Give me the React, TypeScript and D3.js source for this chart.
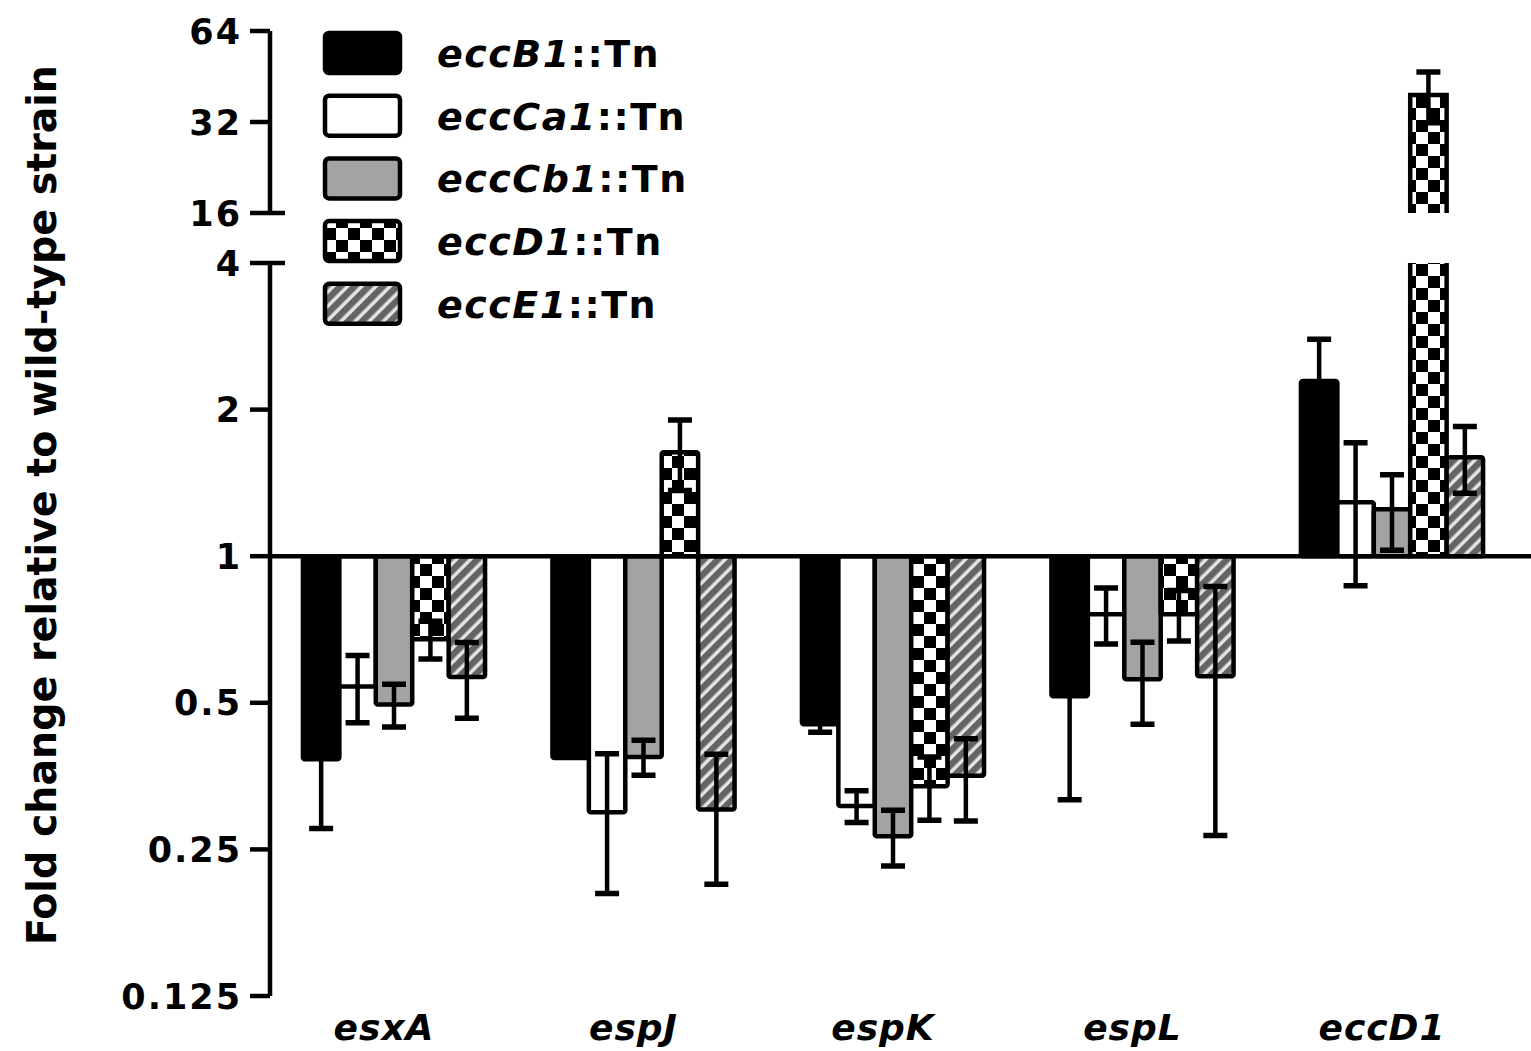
import { useEffect, useRef } from 'react';
import { select, scaleBand, scaleLog } from 'd3';

// genes on the x axis, one group of bars per gene
const genes = ['esxA', 'espJ', 'espK', 'espL', 'eccD1'];
// transposon mutants, one bar per gene
const strains = ['eccB1', 'eccCa1', 'eccCb1', 'eccD1', 'eccE1'];

// fold change (mean) and error (sd), order follows genes
const eccB1Mean = [0.383, 0.385, 0.452, 0.516, 2.29];
const eccB1Sd = [0.107, 0, 0.017, 0.2, 0.5];
const eccCa1Mean = [0.54, 0.298, 0.307, 0.76, 1.29];
const eccCa1Sd = [0.085, 0.095, 0.023, 0.1, 0.42];
const eccCb1Mean = [0.496, 0.387, 0.266, 0.559, 1.249];
const eccCb1Sd = [0.05, 0.032, 0.035, 0.107, 0.22];
const eccD1Mean = [0.675, 1.635, 0.337, 0.76, 39.3];
const eccD1Sd = [0.06, 0.27, 0.05, 0.09, 7.5];
const eccE1Mean = [0.565, 0.302, 0.354, 0.567, 1.597];
const eccE1Sd = [0.1, 0.09, 0.068, 0.3, 0.25];

// broken y axis: lower and upper segment ticks
const lowTicks = [0.125, 0.25, 0.5, 1, 2, 4];
const lowTickLabels = ['0.125', '0.25', '0.5', '1', '2', '4'];
const highTicks = [16, 32, 64];
const highTickLabels = ['16', '32', '64'];

const yTitle = 'Fold change relative to wild-type strain';

const fills = {
  eccB1: '#000',
  eccCa1: '#fff',
  eccCb1: '#a3a3a3',
  eccD1: 'url(#checker)',
  eccE1: 'url(#hatch)',
};

const W = 1531;
const H = 1051;
const axisX = 270;
const lineW = 4.5;

const App = () => {
  const svgRef = useRef(null);

  useEffect(() => {
    const svg = select(svgRef.current);
    svg.selectAll('*').remove();

    const series = [
      { name: 'eccB1', mean: eccB1Mean, sd: eccB1Sd },
      { name: 'eccCa1', mean: eccCa1Mean, sd: eccCa1Sd },
      { name: 'eccCb1', mean: eccCb1Mean, sd: eccCb1Sd },
      { name: 'eccD1', mean: eccD1Mean, sd: eccD1Sd },
      { name: 'eccE1', mean: eccE1Mean, sd: eccE1Sd },
    ];

    // patterns
    const defs = svg.append('defs');
    const checker = defs
      .append('pattern')
      .attr('id', 'checker')
      .attr('patternUnits', 'userSpaceOnUse')
      .attr('width', 24)
      .attr('height', 24);
    checker.append('rect').attr('width', 24).attr('height', 24).attr('fill', '#fff');
    checker.append('rect').attr('width', 12).attr('height', 12).attr('fill', '#000');
    checker
      .append('rect')
      .attr('x', 12)
      .attr('y', 12)
      .attr('width', 12)
      .attr('height', 12)
      .attr('fill', '#000');
    const hatch = defs
      .append('pattern')
      .attr('id', 'hatch')
      .attr('patternUnits', 'userSpaceOnUse')
      .attr('width', 10)
      .attr('height', 10)
      .attr('patternTransform', 'rotate(45)');
    hatch.append('rect').attr('width', 10).attr('height', 10).attr('fill', '#e4e4e4');
    hatch.append('rect').attr('width', 6.5).attr('height', 10).attr('fill', '#646464');

    // scales
    const yLow = scaleLog().base(2).domain([0.125, 4]).range([996, 263]);
    const yHigh = scaleLog().base(2).domain([16, 64]).range([213, 31]);
    const yOf = (v) => (v >= 16 ? yHigh(v) : yLow(v));
    const y1 = yLow(1);

    const x = scaleBand()
      .domain(genes)
      .range([axisX, 1516])
      .paddingInner(0.27)
      .paddingOuter(0.132);
    const xs = scaleBand().domain(strains).range([0, x.bandwidth()]);
    const bw = xs.bandwidth();

    // bars
    const barsG = svg.append('g');
    genes.forEach((gene, gi) => {
      series.forEach((s) => {
        const v = s.mean[gi];
        const bx = x(gene) + xs(s.name);
        if (v > 4) {
          // bar crosses the axis break: two pieces
          const top = yHigh(v);
          const lowTop = yLow(4);
          const highBottom = yHigh(16);
          barsG
            .append('rect')
            .attr('x', bx)
            .attr('y', lowTop)
            .attr('width', bw)
            .attr('height', y1 - lowTop)
            .attr('fill', fills[s.name]);
          barsG
            .append('rect')
            .attr('x', bx)
            .attr('y', top)
            .attr('width', bw)
            .attr('height', highBottom - top)
            .attr('fill', fills[s.name]);
          barsG
            .append('path')
            .attr(
              'd',
              `M${bx},${lowTop}V${y1}H${bx + bw}V${lowTop}` +
                `M${bx},${highBottom}V${top}H${bx + bw}V${highBottom}`
            )
            .attr('fill', 'none')
            .attr('stroke', '#000')
            .attr('stroke-width', lineW);
        } else {
          const yv = yOf(v);
          barsG
            .append('rect')
            .attr('x', bx)
            .attr('y', Math.min(yv, y1))
            .attr('width', bw)
            .attr('height', Math.abs(yv - y1))
            .attr('rx', 2)
            .attr('fill', fills[s.name])
            .attr('stroke', '#000')
            .attr('stroke-width', lineW);
        }
      });
    });

    // error bars
    const errG = svg
      .append('g')
      .attr('stroke', '#000')
      .attr('stroke-width', lineW)
      .attr('fill', 'none');
    genes.forEach((gene, gi) => {
      series.forEach((s) => {
        const sd = s.sd[gi];
        if (!sd) return;
        const cx = x(gene) + xs(s.name) + bw / 2;
        const yHi = yOf(s.mean[gi] + sd);
        const yLo = yOf(s.mean[gi] - sd);
        errG.append('path').attr('d', `M${cx},${yHi}V${yLo}`);
        errG
          .append('path')
          .attr('stroke-width', 5.5)
          .attr('d', `M${cx - 12},${yHi}H${cx + 12}M${cx - 12},${yLo}H${cx + 12}`);
      });
    });

    // axes
    const axisG = svg
      .append('g')
      .attr('stroke', '#000')
      .attr('stroke-width', lineW)
      .attr('fill', 'none');
    axisG
      .append('path')
      .attr('d', `M${axisX},${yLow(4)}V${yLow(0.125)}M${axisX},${yHigh(64)}V${yHigh(16)}`);
    lowTicks.forEach((t) => {
      const extra = t === 4 ? 15 : 0;
      axisG.append('path').attr('d', `M${axisX - 20},${yLow(t)}H${axisX + extra}`);
    });
    highTicks.forEach((t) => {
      const extra = t === 16 ? 15 : 0;
      axisG.append('path').attr('d', `M${axisX - 20},${yHigh(t)}H${axisX + extra}`);
    });
    // baseline at fold change 1
    axisG.append('path').attr('d', `M${axisX},${y1}H${W}`);

    const tickText = svg
      .append('g')
      .attr('font-family', 'DejaVu Sans')
      .attr('font-weight', 'bold')
      .attr('font-size', 35)
      .attr('letter-spacing', 2)
      .attr('text-anchor', 'end');
    lowTicks.forEach((t, i) => {
      tickText
        .append('text')
        .attr('x', 242)
        .attr('y', yLow(t))
        .attr('dy', '0.36em')
        .text(lowTickLabels[i]);
    });
    highTicks.forEach((t, i) => {
      tickText
        .append('text')
        .attr('x', 242)
        .attr('y', yHigh(t))
        .attr('dy', '0.36em')
        .text(highTickLabels[i]);
    });

    // x labels
    svg
      .append('g')
      .attr('font-family', 'DejaVu Sans')
      .attr('font-weight', 'bold')
      .attr('font-style', 'italic')
      .attr('font-size', 36)
      .attr('letter-spacing', 1)
      .attr('text-anchor', 'middle')
      .selectAll('text')
      .data(genes)
      .enter()
      .append('text')
      .attr('x', (d) => x(d) + x.bandwidth() / 2 - 10)
      .attr('y', 1040)
      .text((d) => d);

    // y title
    svg
      .append('text')
      .attr('transform', `translate(56,${505}) rotate(-90)`)
      .attr('text-anchor', 'middle')
      .attr('font-family', 'DejaVu Sans Condensed')
      .attr('font-weight', 'bold')
      .attr('font-size', 40)
      .attr('textLength', 880)
      .attr('lengthAdjust', 'spacingAndGlyphs')
      .text(yTitle);

    // legend
    const legend = svg.append('g');
    strains.forEach((name, i) => {
      const ly = 33 + i * 62.7;
      legend
        .append('rect')
        .attr('x', 325)
        .attr('y', ly)
        .attr('width', 75)
        .attr('height', 40)
        .attr('rx', 4)
        .attr('fill', fills[name])
        .attr('stroke', '#000')
        .attr('stroke-width', lineW);
      const t = legend
        .append('text')
        .attr('x', 437)
        .attr('y', ly + 34)
        .attr('font-family', 'DejaVu Sans')
        .attr('font-weight', 'bold')
        .attr('font-size', 38)
        .attr('letter-spacing', 1.5);
      t.append('tspan').attr('font-style', 'italic').text(name);
      t.append('tspan').text('::Tn');
    });
  }, []);

  return (
    <div style={{ position: 'absolute', left: 0, top: 0, background: '#fff' }}>
      <svg ref={svgRef} width={W} height={H} style={{ display: 'block' }} />
    </div>
  );
};

export default App;
